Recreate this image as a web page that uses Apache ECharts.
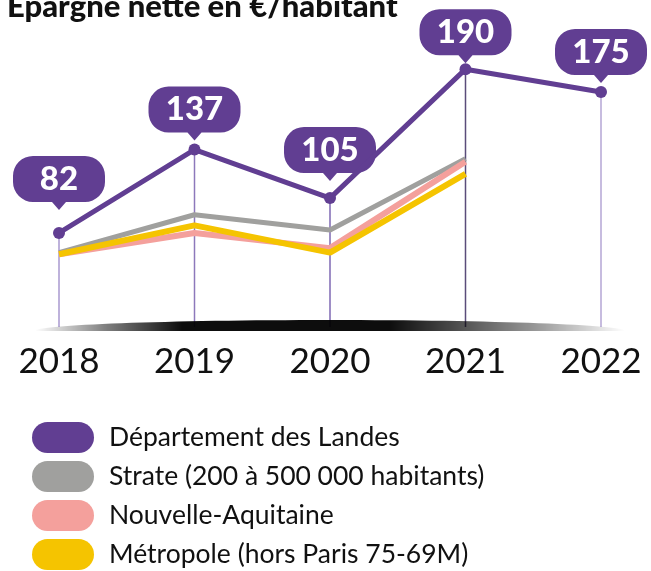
<!DOCTYPE html>
<html>
<head>
<meta charset="utf-8">
<script src="https://cdn.jsdelivr.net/npm/echarts@6/dist/echarts.min.js"></script>
<style>
  html, body { margin: 0; padding: 0; background: #fff; }
  #chart { width: 651px; height: 571px; }
</style>
</head>
<body>
<div id="chart"></div>
<script>
const years = ['2018', '2019', '2020', '2021', '2022'];
const landes = [82, 137, 105, 190, 175];
const strate = [69, 94, 84, 131, null];
const nouvelleAquitaine = [68, 82, 72, 129, null];
const metropole = [68, 87, 69, 121, null];
const seriesNames = ['Département des Landes', 'Strate (200 à 500\u202f000 habitants)', 'Nouvelle-Aquitaine', 'Métropole (hors Paris 75-69M)'];

const PURPLE = '#613e92';
// bulle arrondie avec pointe vers le bas
const bubble = 'path://M20,0 H72 A20,20 0 0 1 92,20 V26 A20,20 0 0 1 72,46 H53 L46,54 L39,46 H20 A20,20 0 0 1 0,26 V20 A20,20 0 0 1 20,0 Z';
const pill = 'path://M15.5,0 H46.5 A15.5,15.5 0 0 1 46.5,31 H15.5 A15.5,15.5 0 0 1 15.5,0 Z';
const bubbleGap = [23, 9, 17, 6, 9];
const stemColors = ['#a899cf', '#8d78bb', '#7e68b3', '#5a4d7a', '#b4a6d4'];

const chart = echarts.init(document.getElementById('chart'), null, { renderer: 'canvas' });

const option = {
  animation: false,
  title: {
    text: 'Épargne nette en €/habitant',
    left: 7,
    top: -9,
    padding: 0,
    textStyle: { fontFamily: 'Lato', fontWeight: 900, fontSize: 31, color: '#111' }
  },
  grid: { left: 59, right: 50, top: 54, bottom: 244 },
  xAxis: {
    type: 'category',
    boundaryGap: false,
    data: years,
    axisLine: { show: false },
    axisTick: { show: false },
    splitLine: { show: false },
    axisLabel: {
      margin: 17,
      fontFamily: 'Lato',
      fontSize: 35,
      color: '#111'
    }
  },
  yAxis: { type: 'value', min: 20, max: 200, show: false },
  legend: {
    orient: 'vertical',
    left: 32,
    top: 422,
    padding: 0,
    itemWidth: 62,
    itemHeight: 31,
    itemGap: 8,
    icon: pill,
    selectedMode: false,
    data: seriesNames,
    textStyle: { fontFamily: 'Lato', fontSize: 26.5, color: '#111', padding: [0, 0, 0, 10] }
  },
  graphic: [
    {
      type: 'ellipse',
      z: 100,
      shape: { cx: 330, cy: 331, rx: 295, ry: 11 },
      style: {
        fill: new echarts.graphic.LinearGradient(0, 0, 1, 0, [
          { offset: 0, color: 'rgba(0,0,0,0)' },
          { offset: 0.12, color: 'rgba(0,0,0,0.5)' },
          { offset: 0.25, color: 'rgba(0,0,0,0.95)' },
          { offset: 0.6, color: 'rgba(0,0,0,0.95)' },
          { offset: 0.85, color: 'rgba(0,0,0,0.4)' },
          { offset: 1, color: 'rgba(0,0,0,0)' }
        ])
      }
    },
    {
      type: 'rect',
      z: 101,
      shape: { x: 20, y: 331, width: 630, height: 14 },
      style: { fill: '#fff' }
    }
  ],
  series: [
    {
      name: 'stems',
      type: 'bar',
      data: landes,
      barWidth: 1.5,
      silent: true,
      itemStyle: { color: (p) => stemColors[p.dataIndex] },
      z: 1
    },
    {
      name: seriesNames[1],
      type: 'line',
      data: strate,
      color: '#a0a09e',
      symbol: 'none',
      lineStyle: { width: 5, color: '#a0a09e' },
      z: 2
    },
    {
      name: seriesNames[2],
      type: 'line',
      data: nouvelleAquitaine,
      color: '#f4a09c',
      symbol: 'none',
      lineStyle: { width: 6, color: '#f4a09c' },
      z: 3
    },
    {
      name: seriesNames[3],
      type: 'line',
      data: metropole,
      color: '#f5c400',
      symbol: 'none',
      lineStyle: { width: 6, color: '#f5c400' },
      z: 4
    },
    {
      name: seriesNames[0],
      type: 'line',
      data: landes,
      color: PURPLE,
      symbol: 'circle',
      symbolSize: 12,
      itemStyle: { color: PURPLE },
      lineStyle: { width: 5, color: PURPLE },
      z: 5,
      markPoint: {
        silent: true,
        symbol: bubble,
        symbolSize: [92, 54],
        itemStyle: { color: PURPLE },
        label: {
          show: true,
          position: 'inside',
          offset: [0, -4],
          formatter: '{c}',
          fontFamily: 'Lato',
          fontWeight: 900,
          fontSize: 33,
          color: '#fff'
        },
        data: landes.map((v, i) => ({
          coord: [i, v],
          value: v,
          symbolOffset: [0, -(bubbleGap[i] + 27)]
        }))
      }
    }
  ]
};

chart.setOption(option);
</script>
</body>
</html>
